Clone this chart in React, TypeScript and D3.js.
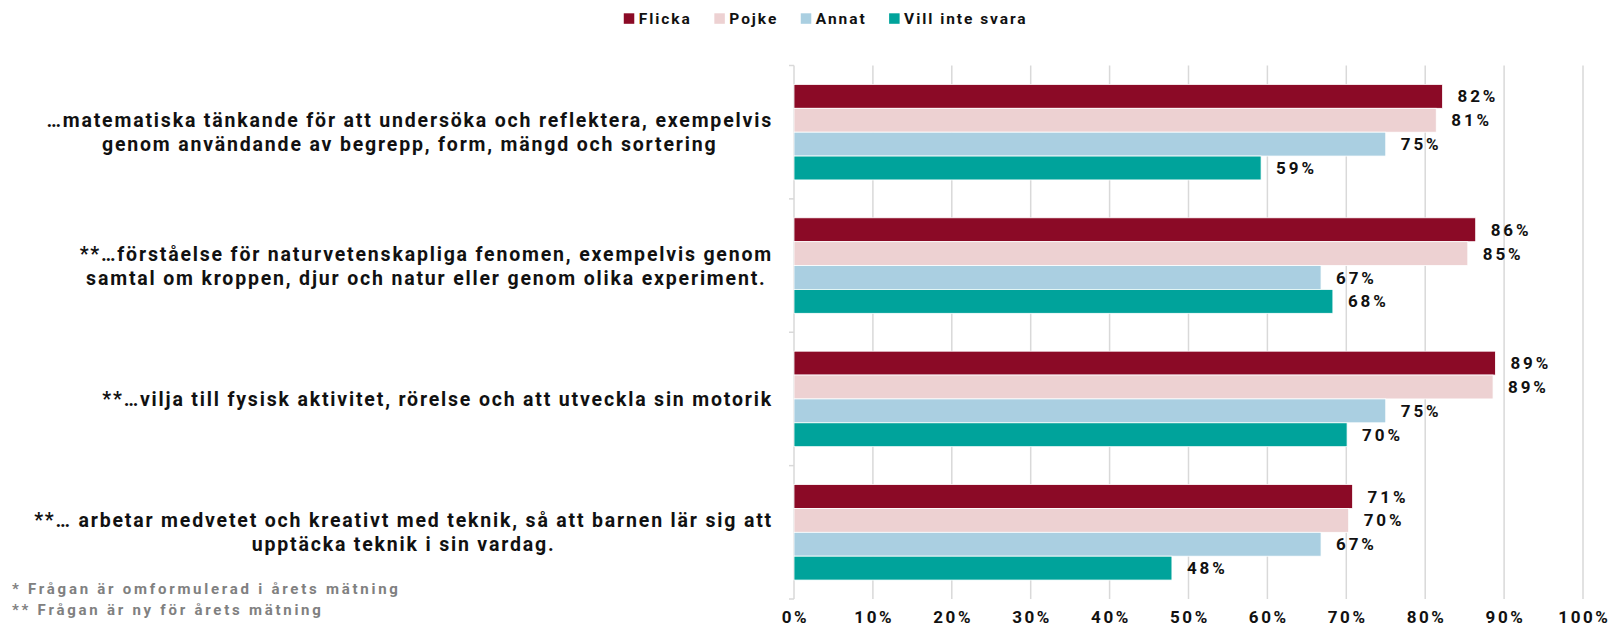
import React, { useEffect, useRef } from "react";
import * as d3 from "d3";

const categoryLines: string[][] = [
  [
    "…matematiska tänkande för att undersöka och reflektera, exempelvis",
    "genom användande av begrepp, form, mängd och sortering",
  ],
  [
    "**…förståelse för naturvetenskapliga fenomen, exempelvis genom",
    "samtal om kroppen, djur och natur eller genom olika experiment.",
  ],
  ["**…vilja till fysisk aktivitet, rörelse och att utveckla sin motorik"],
  [
    "**… arbetar medvetet och kreativt med teknik, så att barnen lär sig att",
    "upptäcka teknik i sin vardag.",
  ],
];
const categories = ["matematik", "naturvetenskap", "fysisk", "teknik"];
const seriesNames = ["Flicka", "Pojke", "Annat", "Vill inte svara"];
const flicka = [82.2, 86.4, 88.9, 70.8];
const pojke = [81.4, 85.4, 88.6, 70.3];
const annat = [75.0, 66.8, 75.0, 66.8];
const villInteSvara = [59.2, 68.3, 70.1, 47.9];
const seriesValues = [flicka, pojke, annat, villInteSvara];
const seriesColors = ["#8B0A26", "#EDD1D2", "#AACFE1", "#00A39B"];
const xTicks = [0, 10, 20, 30, 40, 50, 60, 70, 80, 90, 100];
const footnotes = [
  "* Frågan är omformulerad i årets mätning",
  "** Frågan är ny för årets mätning",
];

const W = 1610;
const H = 629;
const FONT = 'Roboto, "Noto Sans", sans-serif';

export default function App() {
  const ref = useRef<SVGSVGElement | null>(null);

  useEffect(() => {
    const svg = d3.select(ref.current);
    svg.selectAll("*").remove();

    const x = d3.scaleLinear().domain([0, 100]).range([794, 1583]);
    const plotTop = 65.5;
    const plotBottom = 599;
    const y0 = d3
      .scaleBand<string>()
      .domain(categories)
      .range([plotTop, plotBottom])
      .paddingInner(0.284)
      .paddingOuter(0.142);
    const y1 = d3
      .scaleBand<string>()
      .domain(seriesNames)
      .range([0, y0.bandwidth()]);
    const step = y0.step();

    // gridlines
    svg
      .append("g")
      .selectAll("line")
      .data(xTicks.filter((t) => t > 0))
      .join("line")
      .attr("x1", (d) => x(d))
      .attr("x2", (d) => x(d))
      .attr("y1", plotTop)
      .attr("y2", plotBottom)
      .attr("stroke", "#D9D9D9")
      .attr("stroke-width", 1.5);

    // axis line + ticks
    svg
      .append("line")
      .attr("x1", x(0))
      .attr("x2", x(0))
      .attr("y1", plotTop)
      .attr("y2", plotBottom)
      .attr("stroke", "#D9D9D9")
      .attr("stroke-width", 1.5);
    svg
      .append("g")
      .selectAll("line")
      .data(d3.range(categories.length + 1))
      .join("line")
      .attr("x1", x(0) - 5)
      .attr("x2", x(0))
      .attr("y1", (i) => plotTop + i * step)
      .attr("y2", (i) => plotTop + i * step)
      .attr("stroke", "#D9D9D9")
      .attr("stroke-width", 1.5);

    // bars
    const rows = categories.flatMap((c, ci) =>
      seriesNames.map((s, si) => ({ c, s, si, v: seriesValues[si][ci] }))
    );
    svg
      .append("g")
      .selectAll("rect")
      .data(rows)
      .join("rect")
      .attr("x", x(0))
      .attr("y", (d) => (y0(d.c) as number) + (y1(d.s) as number))
      .attr("width", (d) => x(d.v) - x(0))
      .attr("height", y1.bandwidth())
      .attr("fill", (d) => seriesColors[d.si])
      .attr("stroke", "#fff")
      .attr("stroke-width", 0.8);

    // data labels
    svg
      .append("g")
      .selectAll("text")
      .data(rows)
      .join("text")
      .attr("x", (d) => x(d.v) + 15)
      .attr("y", (d) => (y0(d.c) as number) + (y1(d.s) as number) + y1.bandwidth() / 2)
      .attr("dy", "0.36em")
      .attr("font-family", FONT)
      .attr("font-weight", 700)
      .attr("font-size", 17)
      .attr("letter-spacing", 2.9)
      .attr("fill", "#111")
      .text((d) => `${Math.round(d.v)}%`);

    // x tick labels
    svg
      .append("g")
      .selectAll("text")
      .data(xTicks)
      .join("text")
      .attr("x", (d) => x(d) + 1.4)
      .attr("y", 623)
      .attr("text-anchor", "middle")
      .attr("font-family", FONT)
      .attr("font-weight", 700)
      .attr("font-size", 17)
      .attr("letter-spacing", 2.6)
      .attr("fill", "#111")
      .text((d) => `${d}%`);

    // category labels
    const labelRight = 773;
    categories.forEach((c, ci) => {
      const lines = categoryLines[ci];
      const g = svg.append("g");
      const center = (y0(c) as number) + y0.bandwidth() / 2;
      const lh = 24;
      const texts = g
        .selectAll("text")
        .data(lines)
        .join("text")
        .attr("y", (_, i) => center + (i - (lines.length - 1) / 2) * lh)
        .attr("dy", "0.36em")
        .attr("text-anchor", "middle")
        .attr("font-family", FONT)
        .attr("font-weight", 700)
        .attr("font-size", 19.5)
        .attr("letter-spacing", 1.82)
        .attr("fill", "#111")
        .text((d) => d);
      let maxW = 0;
      texts.each(function () {
        maxW = Math.max(maxW, (this as SVGTextElement).getComputedTextLength());
      });
      texts.attr("x", labelRight - maxW / 2);
    });

    // legend
    const legend = svg.append("g");
    const items = legend.selectAll("g").data(seriesNames).join("g");
    items
      .append("rect")
      .attr("width", 10.5)
      .attr("height", 10.5)
      .attr("y", 13.3)
      .attr("fill", (_, i) => seriesColors[i]);
    const ltexts = items
      .append("text")
      .attr("x", 15)
      .attr("y", 18.6)
      .attr("dy", "0.36em")
      .attr("font-family", FONT)
      .attr("font-weight", 700)
      .attr("font-size", 15.5)
      .attr("letter-spacing", 1.95)
      .attr("fill", "#111")
      .text((d) => d);
    const widths: number[] = [];
    ltexts.each(function () {
      widths.push((this as SVGTextElement).getComputedTextLength());
    });
    const gap = 22.5;
    const itemW = widths.map((w) => 15 + w);
    const total = d3.sum(itemW) + gap * (itemW.length - 1);
    let cx = 825.7 - total / 2;
    items.attr("transform", (_, i) => {
      const t = `translate(${cx},0)`;
      cx += itemW[i] + gap;
      return t;
    });

    // footnotes
    svg
      .append("g")
      .selectAll("text")
      .data(footnotes)
      .join("text")
      .attr("x", 12)
      .attr("y", (_, i) => 594 + i * 20.5)
      .attr("font-family", FONT)
      .attr("font-weight", 700)
      .attr("font-size", 15)
      .attr("letter-spacing", 2.75)
      .attr("fill", "#808080")
      .text((d) => d);
  }, []);

  return (
    <svg
      ref={ref}
      width={W}
      height={H}
      style={{ position: "absolute", left: 0, top: 0, background: "#fff" }}
    />
  );
}
